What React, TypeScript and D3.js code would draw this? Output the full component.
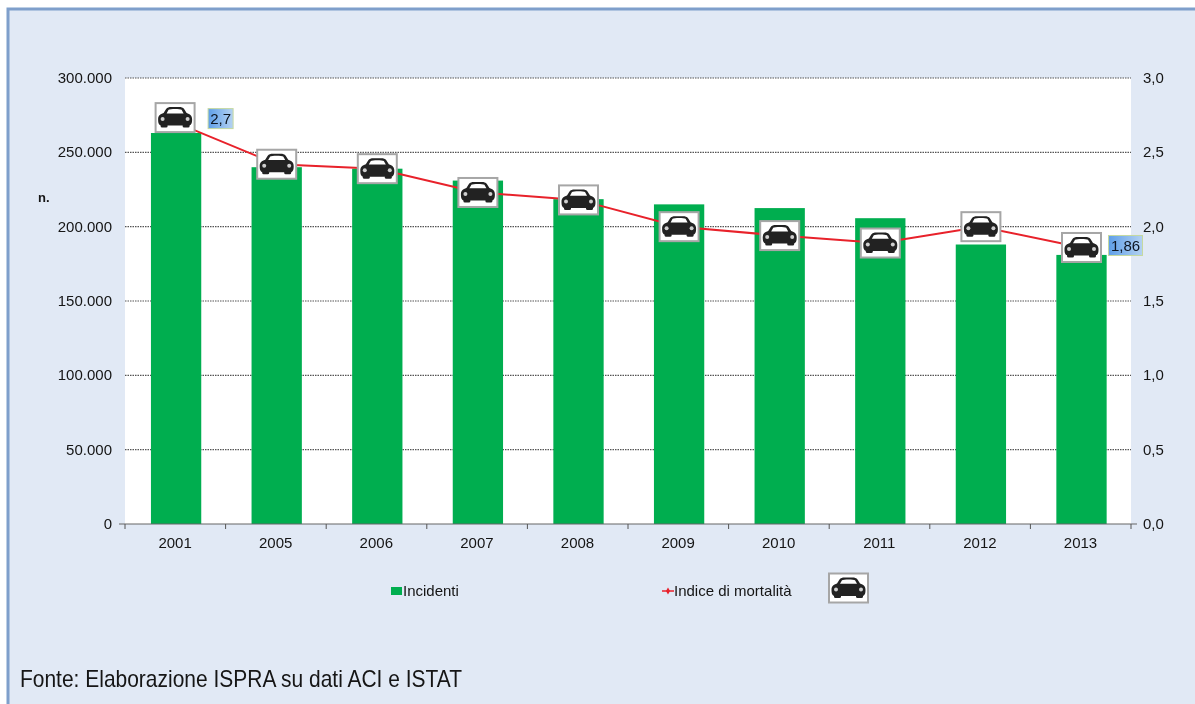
import React from 'react';
import * as d3 from 'd3';

const years = ['2001', '2005', '2006', '2007', '2008', '2009', '2010', '2011', '2012', '2013'];
const incidenti = [263000, 240000, 239000, 231000, 218500, 215000, 212500, 205700, 188000, 181000];
const mortalita = [2.7, 2.42, 2.39, 2.23, 2.18, 2.0, 1.94, 1.89, 2.0, 1.86];
const leftTicks = [0, 50000, 100000, 150000, 200000, 250000, 300000];
const rightTicks = [0, 0.5, 1, 1.5, 2, 2.5, 3];

const W = 1195;
const H = 704;
const margin = { top: 78, right: 64, bottom: 180, left: 125 };
const font = '"Liberation Sans", Arial, sans-serif';
const ink = '#141414';

const x = d3.scaleBand().domain(years).range([margin.left + 0.8, W - margin.right + 0.8]).paddingInner(0.5).paddingOuter(0.25);
const yLeft = d3.scaleLinear().domain([0, 300000]).range([H - margin.bottom, margin.top]);
const yRight = d3.scaleLinear().domain([0, 3]).range([H - margin.bottom, margin.top]);
const step = x.step();
const cx = (y: string) => (x(y) as number) + x.bandwidth() / 2;

const fmtLeft = (v: number) => d3.format(',')(v).replace(/,/g, '.');
const fmtRight = (v: number) => v.toFixed(1).replace('.', ',');

const line = d3.line<number>()
  .x((_, i) => cx(years[i]))
  .y(d => yRight(d));

// car pictogram in a grey framed white box
const Car = ({ px, py }: { px: number; py: number }) => (
  <g transform={`translate(${px},${py})`}>
    <rect x={-19.5} y={-14.5} width={39} height={29} fill="#fff" stroke="#a6a6a6" strokeWidth={2} />
    <path
      d="M-17,2 C-17,-2 -15,-3.5 -11.5,-4.5 L-9,-8.5 C-8,-10 -6,-10.5 -4,-10.5 L4,-10.5 C6,-10.5 8,-10 9,-8.5 L11.5,-4.5 C15,-3.5 17,-2 17,2 C17,6 16,8 13,8 L-13,8 C-16,8 -17,6 -17,2 Z"
      fill="#222"
    />
    <path d="M-8.5,-4.2 L-6.5,-7.8 C-5,-8.8 5,-8.8 6.5,-7.8 L8.5,-4.2 Z" fill="#fff" />
    <rect x={-14.5} y={6.5} width={7} height={3.5} rx={1.5} fill="#222" />
    <rect x={7.5} y={6.5} width={7} height={3.5} rx={1.5} fill="#222" />
    <circle cx={-12.5} cy={1.5} r={2} fill="#cfcfcf" />
    <circle cx={12.5} cy={1.5} r={2} fill="#cfcfcf" />
  </g>
);

const ValueLabel = ({ lx, ly, w, text }: { lx: number; ly: number; w: number; text: string }) => (
  <g>
    <defs>
      <linearGradient id={`lab${text.length}`} x1="0" x2="1" y1="0" y2="0">
        <stop offset="0" stopColor="#5f9fe8" />
        <stop offset="1" stopColor="#b4d2f2" />
      </linearGradient>
    </defs>
    <rect x={lx} y={ly} width={w} height={20} fill={`url(#lab${text.length})`} stroke="#c5d9a0" />
    <text x={lx + w / 2} y={ly + 15.5} textAnchor="middle" fontSize={15} fill="#0c1420">{text}</text>
  </g>
);

export default function App() {
  const base = H - margin.bottom;
  const right = W - margin.right;
  return (
    <svg width={W} height={H} style={{ position: 'absolute', left: 0, top: 0 }} fontFamily={font}>
      <defs>
        <filter id="soft" filterUnits="userSpaceOnUse" x={0} y={0} width={W} height={H}>
          <feGaussianBlur stdDeviation="0.45" />
        </filter>
      </defs>
      <rect x={0} y={0} width={W} height={H} fill="#fff" />
      <g filter="url(#soft)">
        <rect x={8} y={9} width={W} height={H} fill="#e1e9f5" stroke="#7f9fcb" strokeWidth={3} />
        <rect x={margin.left} y={margin.top} width={right - margin.left} height={base - margin.top} fill="#fff" />

        {leftTicks.filter(t => t > 0).map(t => (
          <line key={t} x1={margin.left} x2={right} y1={yLeft(t)} y2={yLeft(t)} stroke="#555" strokeWidth={1.2} strokeDasharray="1.5 1" />
        ))}

        {years.map((y, i) => (
          <rect key={y} x={x(y)} y={yLeft(incidenti[i])} width={x.bandwidth()} height={base - yLeft(incidenti[i])} fill="#00ae50" />
        ))}

        <line x1={margin.left - 6} x2={right + 6} y1={base} y2={base} stroke="#666" strokeWidth={1.2} />
        {d3.range(years.length + 1).map(i => {
          const tx = margin.left + i * step;
          return <line key={i} x1={tx} x2={tx} y1={base} y2={base + 5} stroke="#555" />;
        })}
        {years.map(y => (
          <text key={y} x={cx(y) - 1} y={base + 24} textAnchor="middle" fontSize={15} fill={ink}>{y}</text>
        ))}

        {leftTicks.map(t => (
          <text key={t} x={margin.left - 13} y={yLeft(t) + 5} textAnchor="end" fontSize={15} fill={ink}>{fmtLeft(t)}</text>
        ))}
        {rightTicks.map(t => (
          <text key={t} x={right + 12} y={yRight(t) + 5} fontSize={15} fill={ink}>{fmtRight(t)}</text>
        ))}
        <text x={38} y={202} fontSize={13} fontWeight="bold" fill={ink}>n.</text>

        <path d={line(mortalita) as string} fill="none" stroke="#e8212b" strokeWidth={2} />
        {years.map((y, i) => (
          <Car key={y} px={cx(y) - (i === 0 ? 1 : 0)} py={yRight(mortalita[i]) - (i === 0 ? 5 : 0)} />
        ))}

        <ValueLabel lx={cx(years[0]) + 32} ly={yRight(mortalita[0]) - 14} w={25} text="2,7" />
        <ValueLabel lx={cx(years[9]) + 27} ly={yRight(mortalita[9]) - 12} w={34} text="1,86" />

        <rect x={391} y={587} width={11} height={8} fill="#00ae50" />
        <text x={403} y={596} fontSize={15} fill={ink}>Incidenti</text>
        <line x1={662} x2={674} y1={591} y2={591} stroke="#e8212b" strokeWidth={1.5} />
        <path d={d3.symbol(d3.symbolDiamond, 14)() as string} transform="translate(668,591)" fill="#e8212b" />
        <text x={674} y={596} fontSize={15} fill={ink}>Indice di mortalità</text>
        <Car px={848.5} py={588} />

        <text x={20} y={687} fontSize={24} fill={ink} textLength={442} lengthAdjust="spacingAndGlyphs">
          Fonte: Elaborazione ISPRA su dati ACI e ISTAT
        </text>
      </g>
    </svg>
  );
}
